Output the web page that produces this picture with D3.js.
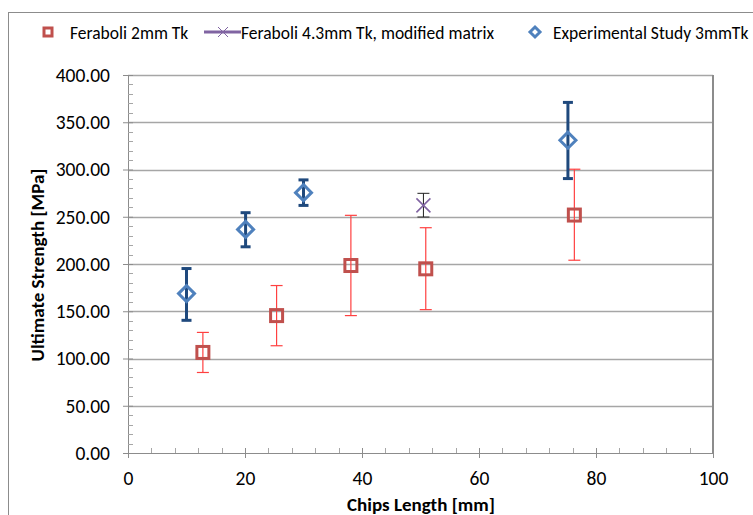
<!DOCTYPE html>
<html>
<head>
<meta charset="utf-8">
<script src="https://cdn.jsdelivr.net/npm/d3@7"></script>
<style>
  body { margin: 0; background: #fff; }
  text { font-family: Calibri, Carlito, "Open Sans", "Noto Sans", sans-serif; fill: #000; }
</style>
</head>
<body>
<svg id="chart"></svg>
<script>
// Feraboli 2mm Tk
var ferX  = [12.8, 25.4, 38.1, 50.9, 76.3];
var ferY  = [106.4, 145.4, 198.4, 194.9, 251.8];
var ferHi = [127.6, 177.2, 251.5, 238.4, 300.3];
var ferLo = [85.2, 113.5, 145.4, 151.7, 204.0];

// Feraboli 4.3mm Tk, modified matrix
var modX  = [50.5];
var modY  = [262.0];
var modHi = [274.8];
var modLo = [249.7];

// Experimental Study 3mmTk
var expX  = [10.0, 20.1, 30.0, 75.2];
var expY  = [168.7, 236.6, 275.5, 331.0];
var expHi = [195.2, 254.3, 289.0, 371.0];
var expLo = [140.4, 218.2, 262.0, 290.4];

var seriesNames = ["Feraboli 2mm Tk", "Feraboli 4.3mm Tk, modified matrix", "Experimental Study 3mmTk"];
var xTicks = [0, 20, 40, 60, 80, 100];
var yTicks = [0, 50, 100, 150, 200, 250, 300, 350, 400];

var width = 753, height = 515;
var svg = d3.select("#chart").attr("width", width).attr("height", height);

var x = d3.scaleLinear().domain([0, 100]).range([128, 713]);
var y = d3.scaleLinear().domain([0, 400]).range([453, 75]);

function rows(xs, ys, hi, lo) {
  return xs.map((v, i) => ({x: v, y: ys[i], hi: hi[i], lo: lo[i]}));
}
var fer = rows(ferX, ferY, ferHi, ferLo);
var mod = rows(modX, modY, modHi, modLo);
var exp = rows(expX, expY, expHi, expLo);

// outer chart border
svg.append("rect")
    .attr("x", 8.5).attr("y", 12.5)
    .attr("width", 760).attr("height", 520)
    .attr("fill", "none")
    .attr("stroke", "#8c8c8c")
    .attr("stroke-width", 1);

// gridlines
svg.append("g")
    .selectAll("line")
    .data(yTicks.filter(d => d > 0))
    .enter()
      .append("line")
      .attr("x1", x(0)).attr("x2", x(100))
      .attr("y1", d => Math.round(y(d)) + 0.5)
      .attr("y2", d => Math.round(y(d)) + 0.5)
      .attr("stroke", "#a6a6a6")
      .attr("stroke-width", 1.3);

// right frame line
svg.append("line")
    .attr("x1", x(100)).attr("x2", x(100))
    .attr("y1", y(400)).attr("y2", y(0))
    .attr("stroke", "#8c8c8c")
    .attr("stroke-width", 2);

// y axis: major ticks crossing outside, minor ticks inside
var yAxis = svg.append("g")
    .attr("transform", "translate(" + x(0) + ",0)");
yAxis.call(d3.axisLeft(y).tickValues(yTicks).tickFormat(d3.format(".2f")).tickSize(5).tickPadding(13));
yAxis.select(".domain").attr("stroke", "#8c8c8c");
yAxis.selectAll(".tick line").attr("stroke", "#8c8c8c").attr("x2", 5).attr("x1", -5);
yAxis.selectAll("text").style("font-size", "19.5px").attr("fill", "#000");
yAxis.selectAll(".minor")
    .data(d3.range(0, 401, 10).filter(d => d % 50 !== 0))
    .enter()
      .append("line")
      .attr("x1", 0).attr("x2", 5)
      .attr("y1", d => Math.round(y(d)) + 0.5)
      .attr("y2", d => Math.round(y(d)) + 0.5)
      .attr("stroke", "#a6a6a6");

// x axis
var xAxis = svg.append("g")
    .attr("transform", "translate(0," + y(0) + ")");
xAxis.call(d3.axisBottom(x).tickValues(xTicks).tickSize(5).tickPadding(13));
xAxis.select(".domain").attr("stroke", "#8c8c8c");
xAxis.selectAll(".tick line").attr("stroke", "#8c8c8c").attr("y1", -5).attr("y2", 5);
xAxis.selectAll("text").style("font-size", "19.5px").attr("fill", "#000");
xAxis.selectAll(".minor")
    .data(d3.range(0, 101, 4).filter(d => d % 20 !== 0))
    .enter()
      .append("line")
      .attr("x1", d => Math.round(x(d)) + 0.5)
      .attr("x2", d => Math.round(x(d)) + 0.5)
      .attr("y1", 0).attr("y2", -5)
      .attr("stroke", "#a6a6a6");

// axis titles
svg.append("text")
    .attr("x", 421).attr("y", 511)
    .attr("text-anchor", "middle")
    .style("font-size", "19px").style("font-weight", "bold")
    .text("Chips Length [mm]");

svg.append("text")
    .attr("transform", "translate(44,265) rotate(-90)")
    .attr("text-anchor", "middle")
    .style("font-size", "19px").style("font-weight", "bold")
    .text("Ultimate Strength [MPa]");

// error bars
function errorBars(data, color, sw, cap) {
  var g = svg.append("g");
  g.selectAll(".eb")
      .data(data)
      .enter()
        .append("line")
        .attr("x1", d => x(d.x)).attr("x2", d => x(d.x))
        .attr("y1", d => y(d.hi)).attr("y2", d => y(d.lo))
        .attr("stroke", color).attr("stroke-width", sw);
  ["hi", "lo"].forEach(k => {
    g.selectAll(".cap-" + k)
        .data(data)
        .enter()
          .append("line")
          .attr("x1", d => x(d.x) - cap).attr("x2", d => x(d.x) + cap)
          .attr("y1", d => y(d[k])).attr("y2", d => y(d[k]))
          .attr("stroke", color).attr("stroke-width", sw);
  });
}

errorBars(fer, "#ff4040", 1.2, 6);
errorBars(mod, "#202020", 1, 6);
errorBars(exp, "#1f497d", 3, 5);

// markers
var sq = 12, dm = 8;
svg.append("g").selectAll("rect")
    .data(fer)
    .enter()
      .append("rect")
      .attr("x", d => x(d.x) - sq / 2).attr("y", d => y(d.y) - sq / 2)
      .attr("width", sq).attr("height", sq)
      .attr("fill", "none")
      .attr("stroke", "#c0504d").attr("stroke-width", 3);

svg.append("g").selectAll("path")
    .data(mod)
    .enter()
      .append("path")
      .attr("d", d => {
        var cx = x(d.x), cy = y(d.y), r = 7;
        return "M" + (cx - r) + "," + (cy - r) + "L" + (cx + r) + "," + (cy + r) +
               "M" + (cx - r) + "," + (cy + r) + "L" + (cx + r) + "," + (cy - r);
      })
      .attr("stroke", "#8064a2").attr("stroke-width", 1.6).attr("fill", "none");

svg.append("g").selectAll("path")
    .data(exp)
    .enter()
      .append("path")
      .attr("d", d => {
        var cx = x(d.x), cy = y(d.y);
        return "M" + cx + "," + (cy - dm) + "L" + (cx + dm) + "," + cy +
               "L" + cx + "," + (cy + dm) + "L" + (cx - dm) + "," + cy + "Z";
      })
      .attr("fill", "none")
      .attr("stroke", "#4f81bd").attr("stroke-width", 3);

// legend
var legend = svg.append("g");
legend.append("rect")
    .attr("x", 44).attr("y", 28).attr("width", 8).attr("height", 8)
    .attr("fill", "none").attr("stroke", "#c0504d").attr("stroke-width", 3);
legend.append("line")
    .attr("x1", 204).attr("x2", 241).attr("y1", 32).attr("y2", 32)
    .attr("stroke", "#8064a2").attr("stroke-width", 3);
legend.append("path")
    .attr("d", "M218,27L228,37M218,37L228,27")
    .attr("stroke", "#8064a2").attr("stroke-width", 1);
legend.append("path")
    .attr("d", "M535,27L540,32L535,37L530,32Z")
    .attr("fill", "none").attr("stroke", "#4f81bd").attr("stroke-width", 3);

var legendX = [70, 241, 553];
legend.selectAll(".lt")
    .data(seriesNames)
    .enter()
      .append("text")
      .attr("x", (d, i) => legendX[i]).attr("y", 38.5)
      .style("font-size", "17.5px")
      .attr("fill", "#222")
      .text(d => d);
</script>
</body>
</html>
